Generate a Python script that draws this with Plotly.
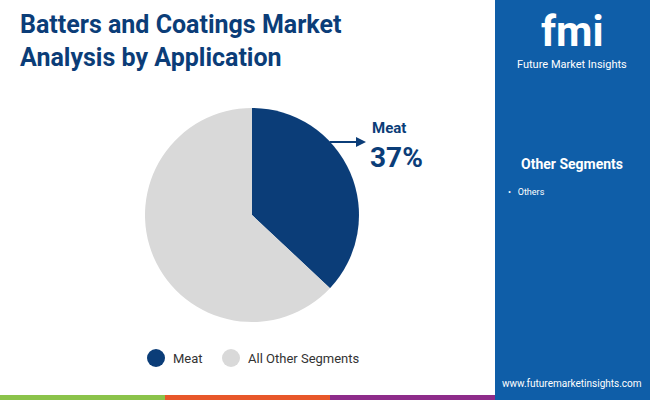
import plotly.graph_objects as go

labels = ["Meat", "All Other Segments"]
values = [37, 63]
colors = ["#0b3d78", "#d9d9d9"]
side_title = "Other Segments"
side_items = ["Others"]

fig = go.Figure()
fig.add_trace(go.Pie(labels=labels, values=values, sort=False, direction="clockwise",
                     rotation=0, marker=dict(colors=colors), textinfo="none",
                     hoverinfo="label+percent", showlegend=False,
                     domain=dict(x=[145/650, 359/650], y=[1-322/400, 1-108/400])))

shapes = [
    dict(type="rect", xref="paper", yref="paper", x0=495/650, x1=1, y0=0, y1=1,
         fillcolor="#0f5ea8", line_width=0, layer="below"),
    dict(type="rect", xref="paper", yref="paper", x0=0, x1=165/650, y0=0, y1=5/400,
         fillcolor="#8bc34a", line_width=0),
    dict(type="rect", xref="paper", yref="paper", x0=165/650, x1=330/650, y0=0, y1=5/400,
         fillcolor="#e8572a", line_width=0),
    dict(type="rect", xref="paper", yref="paper", x0=330/650, x1=495/650, y0=0, y1=5/400,
         fillcolor="#8e2c8a", line_width=0),
]
for cx, c in [(156, colors[0]), (231, colors[1])]:
    shapes.append(dict(type="circle", xref="paper", yref="paper",
                       x0=(cx-9)/650, x1=(cx+9)/650, y0=1-(367/400), y1=1-(349/400),
                       fillcolor=c, line_width=0))

ann = [
    dict(text="<b>Batters and Coatings Market<br>Analysis by Application</b>", x=18/650, y=1-8/400,
         xanchor="left", yanchor="top", showarrow=False, align="left",
         font=dict(family="Roboto", size=25, color="#0b3d78")),
    dict(text="<b>fmi</b>", x=572/650, y=1-31/400, xanchor="center", yanchor="middle", showarrow=False,
         font=dict(family="Roboto", size=42, color="white")),
    dict(text="Future Market Insights", x=572/650, y=1-65/400, xanchor="center", yanchor="middle",
         showarrow=False, font=dict(family="Roboto", size=11, color="white")),
    dict(text="<b>" + side_title + "</b>", x=572/650, y=1-164/400, xanchor="center", yanchor="middle",
         showarrow=False, font=dict(family="Roboto", size=14, color="white")),
    dict(text="•   " + side_items[0], x=506/650, y=1-192/400, xanchor="left", yanchor="middle",
         showarrow=False, font=dict(family="Roboto", size=9, color="white")),
    dict(text="www.futuremarketinsights.com", x=572/650, y=1-383/400, xanchor="center", yanchor="middle",
         showarrow=False, font=dict(family="Roboto", size=10, color="white")),
    dict(text="<b>" + labels[0] + "</b>", x=370/650, y=1-128/400, xanchor="left", yanchor="middle",
         showarrow=False, font=dict(family="Roboto", size=15, color="#0b3d78")),
    dict(text="<b>%d%%</b>" % values[0], x=368/650, y=1-157/400, xanchor="left", yanchor="middle",
         showarrow=False, font=dict(family="Roboto", size=28, color="#0b3d78")),
    dict(x=366/650, y=1-142/400, ax=-38, ay=0, xref="paper", yref="paper",
         text="", showarrow=True, arrowhead=2, arrowsize=1,
         arrowwidth=2, arrowcolor="#0b3d78"),
    dict(text=labels[0], x=171/650, y=1-358/400, xanchor="left", yanchor="middle", showarrow=False,
         font=dict(family="Roboto", size=13, color="#333")),
    dict(text=labels[1], x=246/650, y=1-358/400, xanchor="left", yanchor="middle", showarrow=False,
         font=dict(family="Roboto", size=13, color="#333")),
]

fig.update_layout(width=650, height=400, margin=dict(l=0, r=0, t=0, b=0),
                  paper_bgcolor="white", shapes=shapes, annotations=ann)
fig.write_html("out.html", config={"displayModeBar": False},
               post_script="document.body.style.margin='0';document.body.style.overflow='hidden';")
